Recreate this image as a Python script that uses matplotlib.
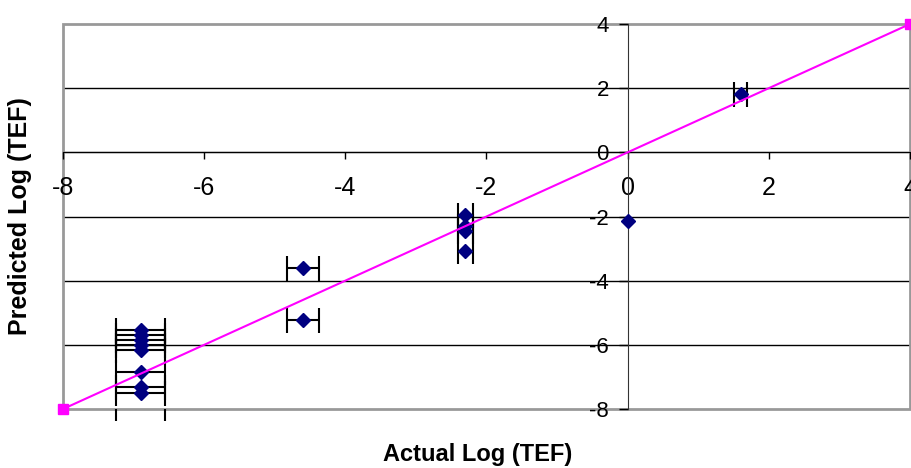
import matplotlib
matplotlib.use("Agg")
import matplotlib.pyplot as plt
from matplotlib.patches import Rectangle

plt.rcParams['font.family'] = ['Liberation Sans', 'DejaVu Sans']
plt.rcParams['axes.unicode_minus'] = False

# actual vs predicted log(TEF), with x error bars
actual = [-6.9, -6.9, -6.9, -6.9, -6.9, -6.9, -6.9, -6.9,
          -4.6, -4.6,
          -2.3, -2.3, -2.3, -2.3,
          0.0,
          1.6]
predicted = [-5.55, -5.70, -5.86, -6.01, -6.17, -6.84, -7.32, -7.51,
             -3.61, -5.23,
             -1.96, -2.30, -2.45, -3.08,
             -2.15,
             1.81]
actual_err = [0.35, 0.35, 0.35, 0.35, 0.35, 0.35, 0.35, 0.35,
              0.23, 0.23,
              0.11, 0.11, 0.11, 0.11,
              0.0,
              0.09]

# point just below the plotted range, only its caps show
off_x = [-6.9]
off_y = [-8.2]
off_err = [0.35]

# 1:1 reference line
line_x = [-8, 4]
line_y = [-8, 4]

ticks = [-8, -6, -4, -2, 0, 2, 4]

fig = plt.figure(figsize=(9.12, 4.68), dpi=100)
ax = fig.add_axes([63/912, 1 - 409/468, 847/912, 385/468])

ax.set_xlim(-8, 4)
ax.set_ylim(-8, 4)
ax.set_xticks(ticks)
ax.set_yticks(ticks)

# horizontal gridlines
for t in ticks[1:-1]:
    ax.axhline(t, color='black', lw=1, zorder=1)

# plot-area border
ax.add_patch(Rectangle((0, 0), 1, 1, transform=ax.transAxes, fill=False,
                       edgecolor='#999999', lw=2, zorder=1.5, clip_on=False))

for s in ['top', 'right']:
    ax.spines[s].set_visible(False)
ax.spines['left'].set_position(('data', 0))
ax.spines['bottom'].set_position(('data', 0))
ax.spines['left'].set_color('#333333')
ax.spines['bottom'].set_color('black')
ax.tick_params(axis='y', direction='out', length=6.5, width=1, pad=7, labelsize=16)
ax.tick_params(axis='x', direction='out', length=5, width=1, pad=12, labelsize=18)

ax.plot(line_x, line_y, color='#FF00FF', lw=1.5, marker='s', ms=7,
        clip_on=False, zorder=4)

# points with and without error bars
with_err = [i for i, e in enumerate(actual_err) if e > 0]
no_err = [i for i, e in enumerate(actual_err) if e == 0]

ax.errorbar([actual[i] for i in with_err], [predicted[i] for i in with_err],
            xerr=[actual_err[i] for i in with_err], fmt='D', color='#000080',
            ms=7, ecolor='black', elinewidth=1.5, capsize=9, capthick=1.5,
            zorder=3)
ax.plot([actual[i] for i in no_err], [predicted[i] for i in no_err], 'D',
        color='#000080', ms=7, zorder=3)

eb = ax.errorbar(off_x, off_y, xerr=off_err, fmt='none', ecolor='black',
                 elinewidth=1.5, capsize=4, capthick=1.5, zorder=3)
for cap in eb.lines[1]:
    cap.set_clip_on(False)

fig.text(478/912, 1 - 455/468, 'Actual Log (TEF)', ha='center', va='center',
         fontsize=17, fontweight='bold')
fig.text(20/912, 1 - 216/468, 'Predicted Log (TEF)', ha='center', va='center',
         rotation=90, fontsize=18, fontweight='bold')

fig.savefig('out.png', dpi=100)
